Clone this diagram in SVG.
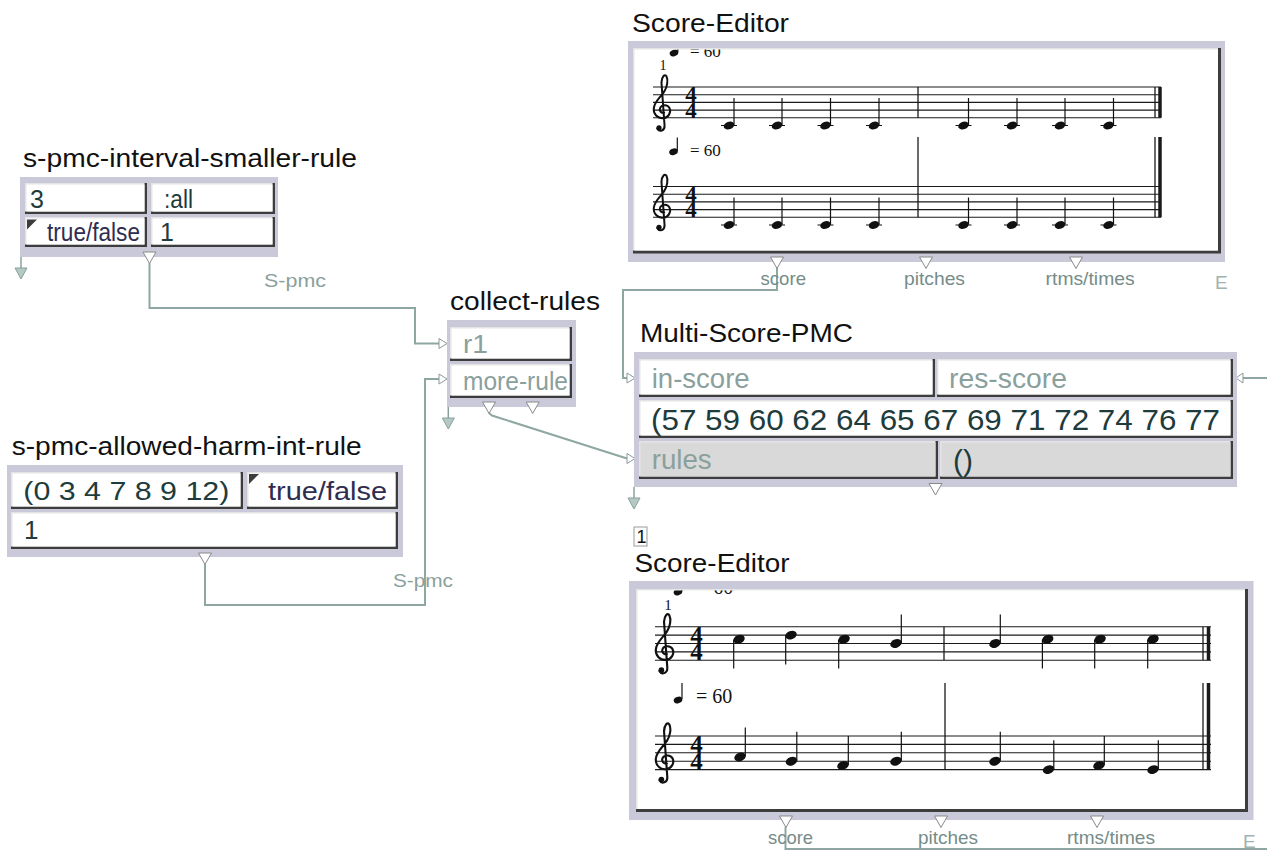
<svg xmlns="http://www.w3.org/2000/svg" xmlns:xlink="http://www.w3.org/1999/xlink" width="1267" height="850" viewBox="0 0 1267 850">
<style>
.t{font-family:"Liberation Sans",Arial,sans-serif;fill:#111}
.ttl{font-size:26px}
.v{fill:#1e3c3c;font-size:25px}
.tf{fill:#2e2d50;font-size:25px}
.g{fill:#8aa09c;font-size:25px}
.lab{fill:#758c88;font-size:19px}
.e{fill:#9fb3af;font-size:19px}
.conn{fill:none;stroke:#8fa7a3;stroke-width:2}
.box{fill:#c9c9d9}
.dk{fill:#3d3d3d}
.lt{fill:#e4e4e4}
.wh{fill:#fff}
.gr{fill:#d9d9d9}
.tri{fill:#fff;stroke:#8a8a8a;stroke-width:1}
.in{fill:#fff;stroke:#8a9a98;stroke-width:1}
.darr{fill:#b4c8c4;stroke:#8aa09c;stroke-width:1}
.st{stroke:#1a1a1a;stroke-width:1.1}
.bl{stroke:#1a1a1a;stroke-width:1.3}
.bk{stroke:#1a1a1a;stroke-width:3.5}
.stem{stroke:#111;stroke-width:1.2}
.mus{font-family:"Liberation Serif","Times New Roman",serif;fill:#111}
.ts{font-family:"Liberation Serif","Times New Roman",serif;font-weight:bold;fill:#111;text-anchor:middle}
</style>
<defs>
<g id="clef"><path d="M1.45,3.35 C1,3.45 0.75,3 0.95,2.65 C1.15,2.3 1.9,2.25 2.15,2.75 C2.4,3.3 2,4 1.35,4.05 C0.55,4.1 0.05,3.5 0.1,2.8 C0.15,1.9 1,1.3 1.45,0.6 C1.85,0 2,-0.9 1.75,-1.4 C1.55,-1.75 1.15,-1.4 1.1,-0.6 L1.5,5 C1.55,5.7 0.8,5.9 0.55,5.4" fill="none" stroke="#111" stroke-width="0.26" stroke-linecap="round"/><circle cx="0.78" cy="5.3" r="0.34" fill="#111"/></g>
<ellipse id="nh1" rx="5.4" ry="3.8" transform="rotate(-20)" fill="#111"/>
<ellipse id="nh2" rx="5.9" ry="4.2" transform="rotate(-20)" fill="#111"/>
<ellipse id="nh3" rx="4.4" ry="3.2" transform="rotate(-20)" fill="#111"/>
<path id="outT" d="M-6.5,0 H6.5 L0,11.5 Z" class="tri"/>
<path id="inT" d="M0,-5 L8,0 L0,5 Z" class="in"/>
<g id="dArr"><line x1="0" y1="0" x2="0" y2="12" stroke="#8aa09c" stroke-width="1.5"/><path d="M-6,11 H6 L0,22 Z" class="darr"/></g>
<clipPath id="clipTop"><rect x="634.5" y="49.5" width="583.5" height="201"/></clipPath>
<clipPath id="clipBot"><rect x="637.5" y="590.5" width="607.5" height="218.5"/></clipPath>
</defs>

<g id="connectors">
<path class="conn" d="M149.5,263 V308 H415 V343.5 H439"/>
<path class="conn" d="M205,564 V605 H425 V379 H439"/>
<path class="conn" d="M489,413 L492,415.5 L627,458.5"/>
<path class="conn" d="M777,268 V290 H623 V378 H627"/>
<path class="conn" d="M1267,378 H1243"/>
<path class="conn" d="M785.5,827 V849 H1267"/>
<use href="#inT" x="439" y="343.5"/>
<use href="#inT" x="439" y="379"/>
<use href="#inT" x="627" y="378"/>
<use href="#inT" x="627" y="458.5"/>
<path d="M1243,373 V383 L1236,378 Z" class="in"/>
<text class="t lab" x="264" y="287" textLength="62" lengthAdjust="spacingAndGlyphs" style="fill:#8aa09c">S-pmc</text>
<text class="t lab" x="393" y="587" textLength="60" lengthAdjust="spacingAndGlyphs" style="fill:#8aa09c">S-pmc</text>
</g>

<g id="s-pmc-interval-smaller-rule">
<text class="t ttl" x="23" y="167" textLength="334" lengthAdjust="spacingAndGlyphs">s-pmc-interval-smaller-rule</text>
<rect class="box" x="20" y="177" width="258" height="80"/>
<rect class="dk" x="25" y="183" width="122" height="31"/><rect class="lt" x="25" y="183" width="119.5" height="28.5"/><rect class="wh" x="26.5" y="184.5" width="118" height="27"/>
<rect class="dk" x="151" y="183" width="124" height="31"/><rect class="lt" x="151" y="183" width="121.5" height="28.5"/><rect class="wh" x="152.5" y="184.5" width="120" height="27"/>
<rect class="dk" x="25" y="217" width="122" height="30"/><rect class="lt" x="25" y="217" width="119.5" height="27.5"/><rect class="wh" x="26.5" y="218.5" width="118" height="26"/>
<rect class="dk" x="151" y="217" width="124" height="30"/><rect class="lt" x="151" y="217" width="121.5" height="27.5"/><rect class="wh" x="152.5" y="218.5" width="120" height="26"/>
<text class="t v" x="30" y="208">3</text>
<text class="t v" x="164" y="208" textLength="29" lengthAdjust="spacingAndGlyphs">:all</text>
<path d="M27,219.5 H37 L27,229.5 Z" fill="#3d3d3d"/>
<text class="t tf" x="47" y="241" textLength="93" lengthAdjust="spacingAndGlyphs">true/false</text>
<text class="t v" x="160" y="241">1</text>
<use href="#outT" x="149.5" y="252"/>
<use href="#dArr" x="21" y="257"/>
</g>

<g id="collect-rules">
<text class="t ttl" x="450" y="310" textLength="150" lengthAdjust="spacingAndGlyphs">collect-rules</text>
<rect class="box" x="447" y="320" width="129" height="87"/>
<rect class="dk" x="450" y="327" width="122" height="34"/><rect class="lt" x="450" y="327" width="119.5" height="31.5"/><rect class="wh" x="451.5" y="328.5" width="118" height="30"/>
<rect class="dk" x="450" y="364" width="122" height="34"/><rect class="lt" x="450" y="364" width="119.5" height="31.5"/><rect class="wh" x="451.5" y="365.5" width="118" height="30"/>
<text class="t g" x="463" y="353" textLength="25" lengthAdjust="spacingAndGlyphs">r1</text>
<text class="t g" x="463" y="390" textLength="105" lengthAdjust="spacingAndGlyphs">more-rule</text>
<use href="#outT" x="489" y="402"/>
<use href="#outT" x="532.7" y="402"/>
<use href="#dArr" x="448.3" y="407"/>
</g>

<g id="s-pmc-allowed-harm-int-rule">
<text class="t ttl" x="11.7" y="455" textLength="350" lengthAdjust="spacingAndGlyphs">s-pmc-allowed-harm-int-rule</text>
<rect class="box" x="7" y="465" width="396" height="92"/>
<rect class="dk" x="11" y="472" width="232" height="37"/><rect class="lt" x="11" y="472" width="229.5" height="34.5"/><rect class="wh" x="12.5" y="473.5" width="228" height="33"/>
<rect class="dk" x="247" y="472" width="151" height="37"/><rect class="lt" x="247" y="472" width="148.5" height="34.5"/><rect class="wh" x="248.5" y="473.5" width="147" height="33"/>
<rect class="dk" x="11" y="512" width="387" height="37"/><rect class="lt" x="11" y="512" width="384.5" height="34.5"/><rect class="wh" x="12.5" y="513.5" width="383" height="33"/>
<text class="t v" x="23.3" y="500" textLength="206" lengthAdjust="spacingAndGlyphs" style="font-size:26px">(0 3 4 7 8 9 12)</text>
<path d="M249,474 H259 L249,484 Z" fill="#3d3d3d"/>
<text class="t tf" x="268" y="500" textLength="119" lengthAdjust="spacingAndGlyphs" style="font-size:26px">true/false</text>
<text class="t v" x="24" y="539" style="font-size:26px">1</text>
<use href="#outT" x="205" y="553"/>
</g>

<g id="multi-score-pmc">
<text class="t ttl" x="640" y="342" textLength="213" lengthAdjust="spacingAndGlyphs">Multi-Score-PMC</text>
<rect class="box" x="634" y="352" width="603" height="135"/>
<rect class="dk" x="639" y="359" width="296" height="38"/><rect class="lt" x="639" y="359" width="293.5" height="35.5"/><rect class="wh" x="640.5" y="360.5" width="292" height="34"/>
<rect class="dk" x="937" y="359" width="296" height="38"/><rect class="lt" x="937" y="359" width="293.5" height="35.5"/><rect class="wh" x="938.5" y="360.5" width="292" height="34"/>
<rect class="dk" x="639" y="400" width="594" height="38"/><rect class="lt" x="639" y="400" width="591.5" height="35.5"/><rect class="wh" x="640.5" y="401.5" width="590" height="34"/>
<rect class="dk" x="639" y="441" width="299" height="38"/><rect class="lt" x="639" y="441" width="296.5" height="35.5"/><rect class="gr" x="640.5" y="442.5" width="295" height="34"/>
<rect class="dk" x="940" y="441" width="293" height="38"/><rect class="lt" x="940" y="441" width="290.5" height="35.5"/><rect class="gr" x="941.5" y="442.5" width="289" height="34"/>
<text class="t g" x="651.7" y="388" textLength="98" lengthAdjust="spacingAndGlyphs" style="font-size:27px">in-score</text>
<text class="t g" x="949" y="388" textLength="118" lengthAdjust="spacingAndGlyphs" style="font-size:27px">res-score</text>
<text class="t v" x="651" y="430" textLength="569" lengthAdjust="spacingAndGlyphs" style="font-size:30px">(57 59 60 62 64 65 67 69 71 72 74 76 77</text>
<text class="t g" x="651.7" y="469" textLength="60" lengthAdjust="spacingAndGlyphs" style="font-size:27px">rules</text>
<text class="t v" x="953" y="471" style="font-size:30px">()</text>
<use href="#outT" x="935.5" y="483.5"/>
<use href="#dArr" x="634" y="487"/>
</g>

<g id="score-editor-1">
<text class="t ttl" x="632" y="32" textLength="157" lengthAdjust="spacingAndGlyphs">Score-Editor</text>
<rect class="box" x="628" y="41" width="597" height="221"/>
<rect class="dk" x="633" y="48" width="588" height="205.5"/><rect class="lt" x="633" y="48" width="585" height="202.5"/><rect class="wh" x="634.5" y="49.5" width="583.5" height="201"/>
<g clip-path="url(#clipTop)">
<g class="st">
<line x1="653" y1="87" x2="1161" y2="87"/><line x1="653" y1="94.7" x2="1161" y2="94.7"/><line x1="653" y1="102.4" x2="1161" y2="102.4"/><line x1="653" y1="110.1" x2="1161" y2="110.1"/><line x1="653" y1="117.8" x2="1161" y2="117.8"/>
<line x1="653" y1="186.5" x2="1161" y2="186.5"/><line x1="653" y1="194.2" x2="1161" y2="194.2"/><line x1="653" y1="201.9" x2="1161" y2="201.9"/><line x1="653" y1="209.6" x2="1161" y2="209.6"/><line x1="653" y1="217.3" x2="1161" y2="217.3"/>
</g>
<use href="#clef" transform="translate(653,87) scale(7.7)"/>
<use href="#clef" transform="translate(653,186.5) scale(7.7)"/>
<text class="ts" font-size="23"><tspan x="691" y="102.4">4</tspan><tspan x="691" y="117.8">4</tspan></text>
<text class="ts" font-size="23"><tspan x="691" y="201.9">4</tspan><tspan x="691" y="217.3">4</tspan></text>
<text class="mus" x="663" y="70" font-size="14" text-anchor="middle">1</text>
<use href="#nh3" x="674" y="53"/><line class="stem" x1="677.8" y1="52" x2="677.8" y2="38"/>
<text class="mus" x="690" y="57" font-size="17">= 60</text>
<use href="#nh3" x="673.5" y="151.7"/><line class="stem" x1="677.3" y1="151" x2="677.3" y2="137.5"/>
<text class="mus" x="690" y="155.5" font-size="17">= 60</text>
<g class="stem">
<line x1="721" y1="125.5" x2="737" y2="125.5"/><line x1="769" y1="125.5" x2="785" y2="125.5"/><line x1="817.5" y1="125.5" x2="833.5" y2="125.5"/><line x1="866" y1="125.5" x2="882" y2="125.5"/><line x1="955.5" y1="125.5" x2="971.5" y2="125.5"/><line x1="1004" y1="125.5" x2="1020" y2="125.5"/><line x1="1052" y1="125.5" x2="1068" y2="125.5"/><line x1="1100.5" y1="125.5" x2="1116.5" y2="125.5"/>
<line x1="734" y1="125" x2="734" y2="98"/><line x1="782" y1="125" x2="782" y2="98"/><line x1="830.5" y1="125" x2="830.5" y2="98"/><line x1="879" y1="125" x2="879" y2="98"/><line x1="968.5" y1="125" x2="968.5" y2="98"/><line x1="1017" y1="125" x2="1017" y2="98"/><line x1="1065" y1="125" x2="1065" y2="98"/><line x1="1113.5" y1="125" x2="1113.5" y2="98"/>
<line x1="721" y1="225" x2="737" y2="225"/><line x1="769" y1="225" x2="785" y2="225"/><line x1="817.5" y1="225" x2="833.5" y2="225"/><line x1="866" y1="225" x2="882" y2="225"/><line x1="955.5" y1="225" x2="971.5" y2="225"/><line x1="1004" y1="225" x2="1020" y2="225"/><line x1="1052" y1="225" x2="1068" y2="225"/><line x1="1100.5" y1="225" x2="1116.5" y2="225"/>
<line x1="734" y1="224.5" x2="734" y2="197.5"/><line x1="782" y1="224.5" x2="782" y2="197.5"/><line x1="830.5" y1="224.5" x2="830.5" y2="197.5"/><line x1="879" y1="224.5" x2="879" y2="197.5"/><line x1="968.5" y1="224.5" x2="968.5" y2="197.5"/><line x1="1017" y1="224.5" x2="1017" y2="197.5"/><line x1="1065" y1="224.5" x2="1065" y2="197.5"/><line x1="1113.5" y1="224.5" x2="1113.5" y2="197.5"/>
</g>
<use href="#nh1" x="729" y="125.5"/><use href="#nh1" x="777" y="125.5"/><use href="#nh1" x="825.5" y="125.5"/><use href="#nh1" x="874" y="125.5"/><use href="#nh1" x="963.5" y="125.5"/><use href="#nh1" x="1012" y="125.5"/><use href="#nh1" x="1060" y="125.5"/><use href="#nh1" x="1108.5" y="125.5"/>
<use href="#nh1" x="729" y="225"/><use href="#nh1" x="777" y="225"/><use href="#nh1" x="825.5" y="225"/><use href="#nh1" x="874" y="225"/><use href="#nh1" x="963.5" y="225"/><use href="#nh1" x="1012" y="225"/><use href="#nh1" x="1060" y="225"/><use href="#nh1" x="1108.5" y="225"/>
<line class="bl" x1="918" y1="87" x2="918" y2="117.8"/><line class="bl" x1="918" y1="137" x2="918" y2="217.3"/>
<line class="bl" x1="1155" y1="87" x2="1155" y2="117.8"/><line class="bl" x1="1155" y1="137" x2="1155" y2="217.3"/>
<line class="bk" x1="1160" y1="87" x2="1160" y2="117.8"/><line class="bk" x1="1160" y1="137" x2="1160" y2="217.3"/>
</g>
<use href="#outT" x="777" y="257"/><use href="#outT" x="926" y="257"/><use href="#outT" x="1076" y="257"/>
<text class="t lab" x="760.5" y="285" textLength="45.5" lengthAdjust="spacingAndGlyphs">score</text>
<text class="t lab" x="904" y="285" textLength="61" lengthAdjust="spacingAndGlyphs">pitches</text>
<text class="t lab" x="1045.6" y="285" textLength="89" lengthAdjust="spacingAndGlyphs">rtms/times</text>
<text class="t e" x="1215" y="289">E</text>
</g>

<g id="score-editor-2">
<rect x="634" y="527" width="13" height="19" fill="none" stroke="#9a9a9a" stroke-width="1"/>
<text class="t" x="636.5" y="543" font-size="18" fill="#444">1</text>
<text class="t ttl" x="634.5" y="572" textLength="155" lengthAdjust="spacingAndGlyphs">Score-Editor</text>
<rect class="box" x="629" y="581" width="624.5" height="239"/>
<rect class="dk" x="636" y="589" width="612" height="223"/><rect class="lt" x="636" y="589" width="609" height="220"/><rect class="wh" x="637.5" y="590.5" width="607.5" height="218.5"/>
<g clip-path="url(#clipBot)">
<g class="st">
<line x1="655" y1="626.7" x2="1211" y2="626.7"/><line x1="655" y1="635.1" x2="1211" y2="635.1"/><line x1="655" y1="643.5" x2="1211" y2="643.5"/><line x1="655" y1="651.9" x2="1211" y2="651.9"/><line x1="655" y1="660.3" x2="1211" y2="660.3"/>
<line x1="655" y1="736" x2="1211" y2="736"/><line x1="655" y1="744.4" x2="1211" y2="744.4"/><line x1="655" y1="752.8" x2="1211" y2="752.8"/><line x1="655" y1="761.2" x2="1211" y2="761.2"/><line x1="655" y1="769.6" x2="1211" y2="769.6"/>
</g>
<use href="#clef" transform="translate(655,626.7) scale(8.2)"/>
<use href="#clef" transform="translate(655,736) scale(8.2)"/>
<text class="ts" font-size="25"><tspan x="696.5" y="643.5">4</tspan><tspan x="696.5" y="660.3">4</tspan></text>
<text class="ts" font-size="25"><tspan x="696.5" y="752.8">4</tspan><tspan x="696.5" y="769.6">4</tspan></text>
<text class="mus" x="668" y="610" font-size="15" text-anchor="middle">1</text>
<use href="#nh3" x="678" y="592"/><line class="stem" x1="682" y1="591" x2="682" y2="575"/>
<text class="mus" x="697" y="594" font-size="20">= 60</text>
<use href="#nh3" x="678" y="700"/><line class="stem" x1="682" y1="699" x2="682" y2="683"/>
<text class="mus" x="696" y="703" font-size="20">= 60</text>
<g class="stem">
<line x1="733.7" y1="639.8" x2="733.7" y2="668.5"/><line x1="785.7" y1="635.6" x2="785.7" y2="664.5"/><line x1="838.7" y1="639.8" x2="838.7" y2="668.5"/><line x1="901.3" y1="643" x2="901.3" y2="614.5"/><line x1="1000.3" y1="643" x2="1000.3" y2="614.5"/><line x1="1042.4" y1="639.8" x2="1042.4" y2="668.5"/><line x1="1094.7" y1="639.8" x2="1094.7" y2="668.5"/><line x1="1147.7" y1="639.8" x2="1147.7" y2="668.5"/>
<line x1="745.3" y1="756.5" x2="745.3" y2="727.6"/><line x1="796.8" y1="760.7" x2="796.8" y2="731.8"/><line x1="848.3" y1="764.9" x2="848.3" y2="736"/><line x1="901.3" y1="760.7" x2="901.3" y2="731.8"/><line x1="1000.3" y1="760.7" x2="1000.3" y2="731.8"/><line x1="1053.8" y1="769.1" x2="1053.8" y2="740.2"/><line x1="1104.3" y1="764.9" x2="1104.3" y2="736"/><line x1="1158.3" y1="769.1" x2="1158.3" y2="740.2"/>
</g>
<use href="#nh2" x="739" y="639.3"/><use href="#nh2" x="791" y="635.1"/><use href="#nh2" x="844" y="639.3"/><use href="#nh2" x="896" y="643.5"/><use href="#nh2" x="995" y="643.5"/><use href="#nh2" x="1047.7" y="639.3"/><use href="#nh2" x="1100" y="639.3"/><use href="#nh2" x="1153" y="639.3"/>
<use href="#nh2" x="740" y="757"/><use href="#nh2" x="791.5" y="761.2"/><use href="#nh2" x="843" y="765.4"/><use href="#nh2" x="896" y="761.2"/><use href="#nh2" x="995" y="761.2"/><use href="#nh2" x="1048.5" y="769.6"/><use href="#nh2" x="1099" y="765.4"/><use href="#nh2" x="1153" y="769.6"/>
<line class="bl" x1="944" y1="626.7" x2="944" y2="660.3"/><line class="bl" x1="945" y1="683" x2="945" y2="769.6"/>
<line class="bl" x1="1203" y1="626.7" x2="1203" y2="660.3"/><line class="bl" x1="1203" y1="683" x2="1203" y2="769.6"/>
<line class="bk" x1="1208.5" y1="626.7" x2="1208.5" y2="660.3"/><line class="bk" x1="1208.5" y1="683" x2="1208.5" y2="769.6"/>
</g>
<use href="#outT" x="786" y="816"/><use href="#outT" x="941" y="816"/><use href="#outT" x="1097" y="816"/>
<text class="t lab" x="768" y="844" textLength="45" lengthAdjust="spacingAndGlyphs">score</text>
<text class="t lab" x="918" y="844" textLength="60" lengthAdjust="spacingAndGlyphs">pitches</text>
<text class="t lab" x="1067" y="844" textLength="88" lengthAdjust="spacingAndGlyphs">rtms/times</text>
<text class="t e" x="1243" y="848">E</text>
</g>
</svg>
